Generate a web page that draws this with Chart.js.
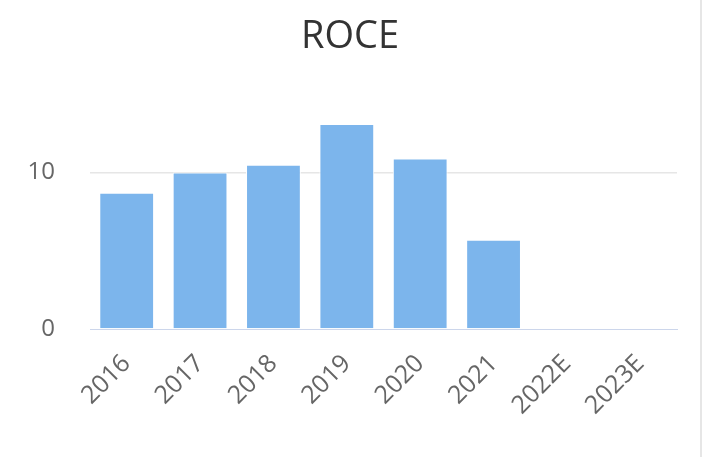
<!DOCTYPE html>
<html>
<head>
<meta charset="utf-8">
<script src="https://cdn.jsdelivr.net/npm/chart.js@4"></script>
<style>
  html, body { margin: 0; padding: 0; background: #fff; }
  #wrap { width: 700px; height: 457px; border-right: 2px solid #e6e6e6; }
</style>
</head>
<body>
<div id="wrap"><canvas id="chart" width="700" height="457"></canvas></div>
<script>
const years = ['2016', '2017', '2018', '2019', '2020', '2021', '2022E', '2023E'];
const roce = [8.7, 10.0, 10.5, 13.1, 10.9, 5.7, null, null];
const yTicks = [0, 10];

const ctx = document.getElementById('chart');

new Chart(ctx, {
    type: 'bar',
    data: {
        labels: years,
        datasets: [{
            label: 'ROCE',
            data: roce,
            backgroundColor: '#7cb5ec',
            borderColor: '#ffffff',
            borderWidth: 1,
            categoryPercentage: 0.83,
            barPercentage: 0.9
        }]
    },
    options: {
        responsive: false,
        animation: false,
        layout: { padding: 0 },
        plugins: {
            legend: { display: false },
            tooltip: { enabled: false },
            title: {
                display: true,
                text: 'ROCE',
                color: '#333333',
                font: { family: 'Open Sans', size: 38, weight: 'normal' },
                padding: { top: 14, bottom: 19 }
            }
        },
        scales: {
            x: {
                grid: { display: false },
                border: { display: true, color: '#ccd6eb', width: 1 },
                ticks: {
                    color: '#666666',
                    font: { family: 'Open Sans', size: 25 },
                    minRotation: 45,
                    maxRotation: 45,
                    padding: 12
                },
                afterFit: (scale) => { scale.height = 128; }
            },
            y: {
                min: 0,
                max: 16,
                border: { display: false },
                grid: {
                    drawTicks: false,
                    color: (c) => c.tick && c.tick.value === 0 ? 'rgba(0,0,0,0)' : '#e6e6e6',
                    lineWidth: 1.5
                },
                ticks: {
                    color: '#666666',
                    font: { family: 'Open Sans', size: 24 },
                    padding: 35
                },
                afterBuildTicks: (axis) => {
                    axis.ticks = yTicks.map(v => ({ value: v }));
                },
                afterFit: (scale) => { scale.width = 90; }
            },
            // empty right-hand gutter so the title centres on the full width
            gutter: {
                type: 'linear',
                position: 'right',
                grid: { display: false },
                border: { display: false },
                ticks: { display: false },
                afterFit: (scale) => { scale.width = 23; }
            }
        }
    }
});
</script>
</body>
</html>
